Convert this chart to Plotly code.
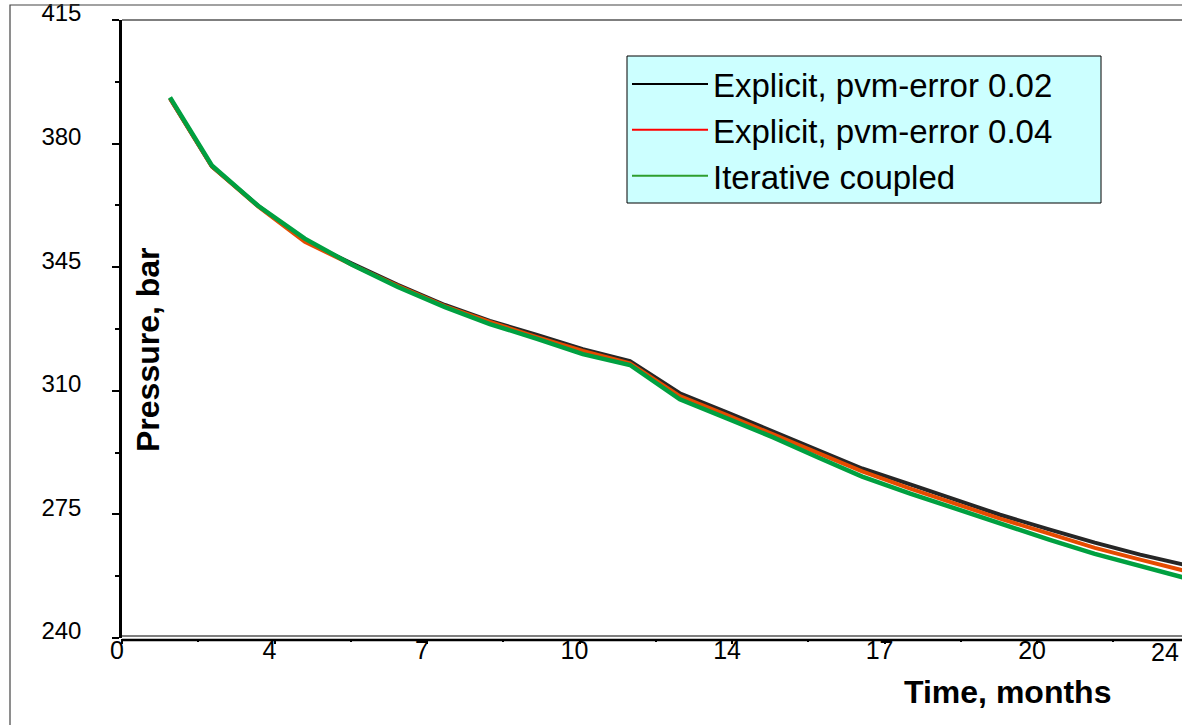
import plotly.graph_objects as go

# ---- data ----
months = [1.08, 2.02, 3.06, 4.11, 5.17, 6.20, 7.26, 8.27, 9.33, 10.36, 11.42, 12.54,
          13.60, 14.64, 15.65, 16.64, 17.72, 18.73, 19.74, 20.86, 21.87, 22.89, 23.90]

explicit_002 = [392.8, 373.5, 362.4, 352.5, 346.0, 340.0, 334.3, 329.8, 325.8, 321.8, 318.4, 309.3,
                303.9, 298.5, 293.1, 288.0, 283.5, 279.2, 274.9, 270.7, 267.0, 263.6, 260.7]
explicit_004 = [392.8, 373.5, 362.2, 352.2, 345.7, 339.7, 334.0, 329.5, 325.2, 321.3, 317.8, 308.5,
                303.1, 297.7, 292.3, 287.2, 282.3, 278.1, 273.8, 269.5, 265.5, 262.2, 259.0]
iterative = [393.1, 373.8, 362.4, 353.1, 345.7, 339.4, 333.7, 328.9, 324.7, 320.4, 317.3, 307.6,
             302.2, 296.8, 291.1, 285.7, 280.9, 276.6, 272.4, 267.8, 263.8, 260.4, 257.0]

series_names = ["Explicit, pvm-error 0.02", "Explicit, pvm-error 0.04", "Iterative coupled"]

x_tick_vals = [0, 24 / 7, 48 / 7, 72 / 7, 96 / 7, 120 / 7, 144 / 7]
x_tick_text = ["0", "4", "7", "10", "14", "17", "20"]
x_minor_vals = [12 / 7, 36 / 7, 60 / 7, 84 / 7, 108 / 7, 132 / 7, 156 / 7]
y_tick_vals = [240, 275, 310, 345, 380, 415]
y_minor_vals = [257.5, 292.5, 327.5, 362.5, 397.5]

FONT = "Arial, Liberation Sans, sans-serif"

line_cols = ["#262626", "#E64B00", "#00A040"]
line_widths = [4, 4, 4.5]
legend_cols = ["#000000", "#FF0000", "#2E9E2E"]

fig = go.Figure()
for ys, c, w in zip([explicit_002, explicit_004, iterative], line_cols, line_widths):
    fig.add_trace(go.Scatter(x=months, y=ys, mode="lines",
                             line=dict(color=c, width=w), showlegend=False,
                             hoverinfo="skip"))
for nm, c in zip(series_names, legend_cols):
    fig.add_trace(go.Scatter(x=[None], y=[None], mode="lines", name=nm,
                             line=dict(color=c, width=2)))

W, H = 1182, 725
L, R, T, B = 122, 0, 20, 87
pw, ph = W - L - R, H - T - B


def px_x(px):
    return (px - L) / pw


def px_y(py):
    return (H - B - py) / ph


fig.update_layout(
    width=W, height=H, autosize=False,
    margin=dict(l=L, r=R, t=T, b=B, pad=0),
    paper_bgcolor="white", plot_bgcolor="white",
    font=dict(family=FONT, color="black"),
    xaxis=dict(range=[0, 23.83], showgrid=False, zeroline=False, showline=False,
               tickmode="array", tickvals=x_tick_vals, ticktext=x_tick_text,
               ticks="outside", ticklen=5, tickwidth=1.5, tickcolor="black",
               tickfont=dict(size=25, family=FONT, color="black"),
               ticklabelshift=-5, ticklabelstandoff=-15, ticklabeloverflow="allow",
               minor=dict(tickmode="array", tickvals=x_minor_vals, ticks="outside",
                          ticklen=3, tickwidth=1.5, tickcolor="black")),
    yaxis=dict(range=[240, 415], showgrid=False, zeroline=False,
               showline=True, linewidth=2.5, linecolor="black",
               tickmode="array", tickvals=y_tick_vals,
               ticks="outside", ticklen=7, tickwidth=1.5, tickcolor="black",
               tickfont=dict(size=24, family=FONT, color="black"),
               ticklabelstandoff=26, ticklabelshift=-7, ticklabeloverflow="allow",
               minor=dict(tickmode="array", tickvals=y_minor_vals, ticks="outside",
                          ticklen=4, tickwidth=1.5, tickcolor="black")),
    legend=dict(x=px_x(627), y=px_y(56), xanchor="left", yanchor="top",
                bgcolor="rgba(0,0,0,0)", borderwidth=0,
                font=dict(size=33, family=FONT, color="black"),
                itemwidth=76, tracegroupgap=0),
    shapes=[
        # legend box
        dict(type="rect", xref="paper", yref="paper", x0=px_x(627), x1=px_x(1101),
             y0=px_y(203), y1=px_y(56), line=dict(color="black", width=1),
             fillcolor="#CCFFFF", layer="below"),
        dict(type="line", xref="paper", yref="paper", x0=0, x1=1, y0=1, y1=1,
             line=dict(color="black", width=1.2)),
        dict(type="line", xref="paper", yref="paper", x0=0, x1=1,
             y0=px_y(636), y1=px_y(636), line=dict(color="black", width=1.2)),
        dict(type="line", xref="paper", yref="paper", x0=0, x1=1,
             y0=px_y(640), y1=px_y(640), line=dict(color="black", width=2.5)),
        dict(type="rect", xref="paper", yref="paper", x0=px_x(10), x1=px_x(1200),
             y0=px_y(760), y1=px_y(5), line=dict(color="#444444", width=1.2),
             fillcolor="rgba(0,0,0,0)", layer="above"),
    ],
    annotations=[
        dict(text="Pressure, bar", xref="paper", yref="paper", x=px_x(148), y=px_y(350),
             xanchor="center", yanchor="middle", textangle=-90, showarrow=False,
             font=dict(size=32, family=FONT, color="black", weight="bold")),
        dict(text="Time, months", xref="paper", yref="paper", x=px_x(1007), y=px_y(692),
             xanchor="center", yanchor="middle", showarrow=False,
             font=dict(size=32, family=FONT, color="black", weight="bold")),
        dict(text="24", xref="paper", yref="paper", x=px_x(1165), y=px_y(652),
             xanchor="center", yanchor="middle", showarrow=False,
             font=dict(size=25, family=FONT, color="black")),
    ],
)

fig.write_html(
    "out.html",
    config={"displayModeBar": False},
    post_script="document.body.style.margin='0px';document.body.style.overflow='hidden';",
)
